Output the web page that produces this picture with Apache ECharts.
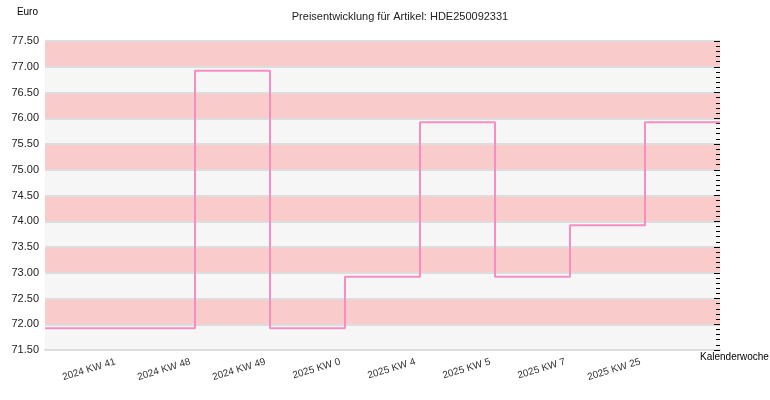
<!DOCTYPE html>
<html>
<head>
<meta charset="utf-8">
<script src="https://cdn.jsdelivr.net/npm/echarts@6/dist/echarts.min.js"></script>
<style>html,body{margin:0;padding:0;background:#fff;}#c{width:770px;height:400px;}</style>
</head>
<body>
<div id="c"></div>
<script>
var categories = ['2024 KW 41','2024 KW 48','2024 KW 49','2025 KW 0','2025 KW 4','2025 KW 5','2025 KW 7','2025 KW 25'];
var prices = [71.92, 76.92, 71.92, 72.92, 75.92, 72.92, 73.92, 75.92];
var yTicks = {min: 71.5, max: 77.5, interval: 0.5};

// pad the axis with one empty slot at each end; the line runs from edge to edge
var axisCats = [''].concat(categories, ['']);
var lineData = [prices[0]].concat(prices, [prices[prices.length - 1]]);

var chart = echarts.init(document.getElementById('c'));
var font = 'Liberation Sans, Arial, sans-serif';
chart.setOption({
  animation: false,
  backgroundColor: '#ffffff',
  title: {
    text: 'Preisentwicklung für Artikel: HDE250092331',
    left: 395, top: 6, textAlign: 'center',
    textStyle: {fontFamily: font, fontSize: 11, fontWeight: 'normal', color: '#222'}
  },
  grid: {left: 45, right: 50, top: 41, bottom: 50, containLabel: false, outerBoundsMode: 'none'},
  xAxis: {
    type: 'category',
    data: axisCats,
    boundaryGap: false,
    name: 'Kalenderwoche',
    nameLocation: 'end',
    nameGap: -20,
    nameMoveOverlap: false,
    nameTextStyle: {fontFamily: font, fontSize: 10, color: '#000', align: 'left', verticalAlign: 'top', padding: [2, 0, 0, 0]},
    axisLine: {show: true, lineStyle: {color: '#dddddd', width: 2}},
    axisTick: {show: false},
    splitLine: {show: false},
    axisLabel: {
      rotate: 17, margin: 10, interval: 0, padding: [0, 5, 0, 0],
      fontFamily: font, fontSize: 10, color: '#333',
      formatter: function (v) { return v; }
    }
  },
  yAxis: [{
    type: 'value',
    min: yTicks.min, max: yTicks.max, interval: yTicks.interval,
    name: 'Euro',
    nameLocation: 'end',
    nameGap: 24,
    nameMoveOverlap: false,
    nameTextStyle: {fontFamily: font, fontSize: 10, color: '#000', align: 'right', padding: [0, 7, 0, 0]},
    axisLine: {show: false},
    axisTick: {show: false},
    axisLabel: {
      margin: 6, fontFamily: font, fontSize: 11, color: '#222',
      formatter: function (v) { return v.toFixed(2); }
    },
    splitLine: {show: true, lineStyle: {color: '#dddddd', width: 2}},
    splitArea: {show: true, areaStyle: {color: ['#f6f6f6', '#f9cbcb']}}
  }, {
    type: 'value',
    position: 'right',
    min: yTicks.min, max: yTicks.max, interval: yTicks.interval,
    axisLine: {show: false},
    axisLabel: {show: false},
    splitLine: {show: false},
    axisTick: {show: true, inside: true, length: 6, lineStyle: {color: '#000', width: 1}},
    minorTick: {show: true, splitNumber: 5, length: 4, lineStyle: {color: '#000', width: 1}},
    minorSplitLine: {show: false}
  }],
  series: [{
    type: 'line',
    step: 'end',
    data: lineData,
    yAxisIndex: 0,
    symbol: 'none',
    lineStyle: {color: '#f78dc3', width: 2},
    itemStyle: {color: '#f78dc3'}
  }]
});
</script>
</body>
</html>
